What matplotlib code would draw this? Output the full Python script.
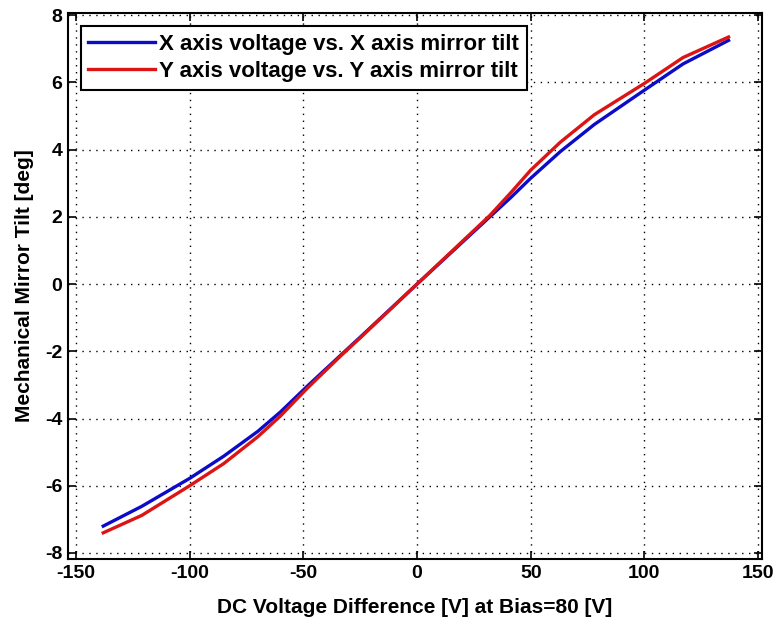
import matplotlib.pyplot as plt

# DC voltage difference [V]
volts = [-138, -121, -100, -85, -70, -60, -48, -33, -25, 0, 16, 32, 41, 50, 63, 78, 100, 117, 137]
# mechanical tilt [deg]
tilt_x = [-7.20, -6.61, -5.78, -5.12, -4.38, -3.80, -3.02, -2.08, -1.58, 0.0, 1.00, 2.00, 2.56,
          3.15, 3.94, 4.75, 5.77, 6.55, 7.25]
tilt_y = [-7.40, -6.88, -6.00, -5.34, -4.54, -3.92, -3.08, -2.10, -1.60, 0.0, 1.02, 2.04, 2.70,
          3.39, 4.22, 5.04, 5.97, 6.74, 7.35]

xticks = [-150, -100, -50, 0, 50, 100, 150]
yticks = [-8, -6, -4, -2, 0, 2, 4, 6, 8]

plt.rcParams['font.family'] = ['Liberation Sans', 'DejaVu Sans']
plt.rcParams['font.weight'] = 'bold'
plt.rcParams['axes.unicode_minus'] = False

fig = plt.figure(figsize=(7.73, 6.21), dpi=100)
ax = fig.add_axes([0.088, 0.0998, 0.898, 0.879])

ax.plot(volts, tilt_x, color='#0b0bc8', lw=2.4, label='X axis voltage vs. X axis mirror tilt')
ax.plot(volts, tilt_y, color='#dc1414', lw=2.4, label='Y axis voltage vs. Y axis mirror tilt')

ax.set_xlim(-153.5, 151.8)
ax.set_ylim(-8.18, 8.06)
ax.set_xticks(xticks)
ax.set_yticks(yticks)
ax.grid(True, color='black', linestyle=(0, (1, 4)), linewidth=1.0)
ax.tick_params(direction='in', top=True, right=True, length=6, width=1.2, labelsize=14, pad=4)
for s in ax.spines.values():
    s.set_linewidth(1.5)

ax.set_xlabel('DC Voltage Difference [V] at Bias=80 [V]', fontsize=15, fontweight='bold', labelpad=12)
ax.set_ylabel('Mechanical Mirror Tilt [deg]', fontsize=15, fontweight='bold', labelpad=8)

leg = ax.legend(loc='upper left', bbox_to_anchor=(0.002, 0.996), fontsize=16, handlelength=3.0,
                handletextpad=0.2, borderpad=0.35, labelspacing=0.25, fancybox=False,
                framealpha=1, edgecolor='black')
leg.get_frame().set_linewidth(1.5)

fig.savefig('out.png', dpi=100)
